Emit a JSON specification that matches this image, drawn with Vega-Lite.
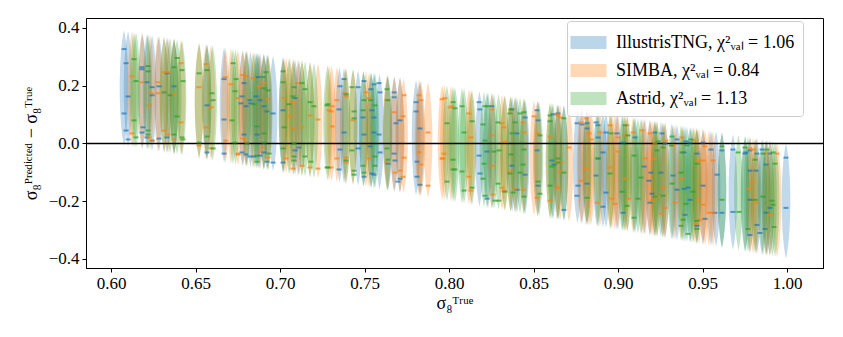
{
"$schema": "https://vega.github.io/schema/vega-lite/v6.json",
"width": 737, "height": 250,
"autosize": "none",
"padding": {"left": 86, "top": 18, "right": 20, "bottom": 69},
"config": {
  "font": "Liberation Serif",
  "view": {"stroke": "black", "strokeWidth": 1},
  "axis": {"labelFont": "Liberation Serif", "labelFontSize": 17, "labelColor": "black", "titleFont": "Liberation Serif", "titleFontSize": 18, "titleFontWeight": "normal", "titleColor": "black", "tickColor": "black", "tickSize": 4, "domainColor": "black", "grid": false, "labelPadding": 3},
  "legend": {"labelFont": "Liberation Serif"}
},
"datasets": {
"violins": [
{"s":"T","x":0.6077,"y":0.192},{"s":"T","x":0.6101,"y":0.190},{"s":"T","x":0.6186,"y":0.181},{"s":"T","x":0.6213,"y":0.179},{"s":"T","x":0.6243,"y":0.176},{"s":"T","x":0.6284,"y":0.172},{"s":"T","x":0.6331,"y":0.167},{"s":"T","x":0.6373,"y":0.163},{"s":"T","x":0.6568,"y":0.143},{"s":"T","x":0.6669,"y":0.133},{"s":"T","x":0.6778,"y":0.122},{"s":"T","x":0.6799,"y":0.120},{"s":"T","x":0.6825,"y":0.118},{"s":"T","x":0.6858,"y":0.114},{"s":"T","x":0.6870,"y":0.113},{"s":"T","x":0.6882,"y":0.112},{"s":"T","x":0.6905,"y":0.110},{"s":"T","x":0.6923,"y":0.108},{"s":"T","x":0.6959,"y":0.104},{"s":"T","x":0.7018,"y":0.098},{"s":"T","x":0.7089,"y":0.091},{"s":"T","x":0.7112,"y":0.089},{"s":"T","x":0.7352,"y":0.065},{"s":"T","x":0.7379,"y":0.062},{"s":"T","x":0.7462,"y":0.054},{"s":"T","x":0.7494,"y":0.051},{"s":"T","x":0.7540,"y":0.046},{"s":"T","x":0.7556,"y":0.044},{"s":"T","x":0.7589,"y":0.041},{"s":"T","x":0.7639,"y":0.036},{"s":"T","x":0.7677,"y":0.032},{"s":"T","x":0.7710,"y":0.029},{"s":"T","x":0.7805,"y":0.020},{"s":"T","x":0.7828,"y":0.017},{"s":"T","x":0.8180,"y":-0.018},{"s":"T","x":0.8225,"y":-0.023},{"s":"T","x":0.8254,"y":-0.025},{"s":"T","x":0.8373,"y":-0.037},{"s":"T","x":0.8402,"y":-0.040},{"s":"T","x":0.8450,"y":-0.045},{"s":"T","x":0.8524,"y":-0.052},{"s":"T","x":0.8615,"y":-0.062},{"s":"T","x":0.8645,"y":-0.065},{"s":"T","x":0.8680,"y":-0.068},{"s":"T","x":0.8760,"y":-0.076},{"s":"T","x":0.8787,"y":-0.079},{"s":"T","x":0.8817,"y":-0.082},{"s":"T","x":0.8876,"y":-0.088},{"s":"T","x":0.8911,"y":-0.091},{"s":"T","x":0.8929,"y":-0.093},{"s":"T","x":0.8994,"y":-0.099},{"s":"T","x":0.9030,"y":-0.103},{"s":"T","x":0.9101,"y":-0.110},{"s":"T","x":0.9154,"y":-0.115},{"s":"T","x":0.9189,"y":-0.119},{"s":"T","x":0.9219,"y":-0.122},{"s":"T","x":0.9254,"y":-0.125},{"s":"T","x":0.9278,"y":-0.128},{"s":"T","x":0.9325,"y":-0.133},{"s":"T","x":0.9349,"y":-0.135},{"s":"T","x":0.9396,"y":-0.140},{"s":"T","x":0.9426,"y":-0.143},{"s":"T","x":0.9467,"y":-0.147},{"s":"T","x":0.9503,"y":-0.150},{"s":"T","x":0.9550,"y":-0.155},{"s":"T","x":0.9580,"y":-0.158},{"s":"T","x":0.9615,"y":-0.162},{"s":"T","x":0.9680,"y":-0.168},{"s":"T","x":0.9754,"y":-0.175},{"s":"T","x":0.9781,"y":-0.178},{"s":"T","x":0.9822,"y":-0.182},{"s":"T","x":0.9852,"y":-0.185},{"s":"T","x":0.9876,"y":-0.188},{"s":"T","x":0.9899,"y":-0.190},{"s":"T","x":0.9994,"y":-0.199},
{"s":"S","x":0.6124,"y":0.188},{"s":"S","x":0.6183,"y":0.182},{"s":"S","x":0.6231,"y":0.177},{"s":"S","x":0.6278,"y":0.172},{"s":"S","x":0.6314,"y":0.169},{"s":"S","x":0.6337,"y":0.166},{"s":"S","x":0.6373,"y":0.163},{"s":"S","x":0.6414,"y":0.159},{"s":"S","x":0.6521,"y":0.148},{"s":"S","x":0.6562,"y":0.144},{"s":"S","x":0.6592,"y":0.141},{"s":"S","x":0.6678,"y":0.132},{"s":"S","x":0.6710,"y":0.129},{"s":"S","x":0.6751,"y":0.125},{"s":"S","x":0.6781,"y":0.122},{"s":"S","x":0.6799,"y":0.120},{"s":"S","x":0.6840,"y":0.116},{"s":"S","x":0.6876,"y":0.112},{"s":"S","x":0.6902,"y":0.110},{"s":"S","x":0.6929,"y":0.107},{"s":"S","x":0.7024,"y":0.098},{"s":"S","x":0.7036,"y":0.096},{"s":"S","x":0.7059,"y":0.094},{"s":"S","x":0.7077,"y":0.092},{"s":"S","x":0.7106,"y":0.089},{"s":"S","x":0.7130,"y":0.087},{"s":"S","x":0.7178,"y":0.082},{"s":"S","x":0.7225,"y":0.078},{"s":"S","x":0.7290,"y":0.071},{"s":"S","x":0.7305,"y":0.070},{"s":"S","x":0.7337,"y":0.066},{"s":"S","x":0.7388,"y":0.061},{"s":"S","x":0.7432,"y":0.057},{"s":"S","x":0.7509,"y":0.049},{"s":"S","x":0.7527,"y":0.047},{"s":"S","x":0.7633,"y":0.037},{"s":"S","x":0.7675,"y":0.033},{"s":"S","x":0.7710,"y":0.029},{"s":"S","x":0.7731,"y":0.027},{"s":"S","x":0.7822,"y":0.018},{"s":"S","x":0.7834,"y":0.017},{"s":"S","x":0.7876,"y":0.012},{"s":"S","x":0.7959,"y":0.004},{"s":"S","x":0.7973,"y":0.003},{"s":"S","x":0.8012,"y":-0.001},{"s":"S","x":0.8118,"y":-0.012},{"s":"S","x":0.8130,"y":-0.013},{"s":"S","x":0.8254,"y":-0.025},{"s":"S","x":0.8314,"y":-0.031},{"s":"S","x":0.8328,"y":-0.033},{"s":"S","x":0.8364,"y":-0.036},{"s":"S","x":0.8391,"y":-0.039},{"s":"S","x":0.8441,"y":-0.044},{"s":"S","x":0.8503,"y":-0.050},{"s":"S","x":0.8524,"y":-0.052},{"s":"S","x":0.8598,"y":-0.060},{"s":"S","x":0.8639,"y":-0.064},{"s":"S","x":0.8657,"y":-0.066},{"s":"S","x":0.8710,"y":-0.071},{"s":"S","x":0.8781,"y":-0.078},{"s":"S","x":0.8811,"y":-0.081},{"s":"S","x":0.8828,"y":-0.083},{"s":"S","x":0.8840,"y":-0.084},{"s":"S","x":0.8893,"y":-0.089},{"s":"S","x":0.8953,"y":-0.095},{"s":"S","x":0.8964,"y":-0.096},{"s":"S","x":0.8982,"y":-0.098},{"s":"S","x":0.9000,"y":-0.100},{"s":"S","x":0.9041,"y":-0.104},{"s":"S","x":0.9053,"y":-0.105},{"s":"S","x":0.9089,"y":-0.109},{"s":"S","x":0.9142,"y":-0.114},{"s":"S","x":0.9160,"y":-0.116},{"s":"S","x":0.9189,"y":-0.119},{"s":"S","x":0.9201,"y":-0.120},{"s":"S","x":0.9213,"y":-0.121},{"s":"S","x":0.9231,"y":-0.123},{"s":"S","x":0.9266,"y":-0.127},{"s":"S","x":0.9278,"y":-0.128},{"s":"S","x":0.9337,"y":-0.134},{"s":"S","x":0.9379,"y":-0.138},{"s":"S","x":0.9450,"y":-0.145},{"s":"S","x":0.9462,"y":-0.146},{"s":"S","x":0.9479,"y":-0.148},{"s":"S","x":0.9503,"y":-0.150},{"s":"S","x":0.9515,"y":-0.152},{"s":"S","x":0.9538,"y":-0.154},{"s":"S","x":0.9562,"y":-0.156},{"s":"S","x":0.9781,"y":-0.178},{"s":"S","x":0.9799,"y":-0.180},{"s":"S","x":0.9817,"y":-0.182},{"s":"S","x":0.9876,"y":-0.188},{"s":"S","x":0.9899,"y":-0.190},{"s":"S","x":0.9941,"y":-0.194},
{"s":"A","x":0.6136,"y":0.186},{"s":"A","x":0.6148,"y":0.185},{"s":"A","x":0.6219,"y":0.178},{"s":"A","x":0.6314,"y":0.169},{"s":"A","x":0.6349,"y":0.165},{"s":"A","x":0.6373,"y":0.163},{"s":"A","x":0.6391,"y":0.161},{"s":"A","x":0.6420,"y":0.158},{"s":"A","x":0.6521,"y":0.148},{"s":"A","x":0.6568,"y":0.143},{"s":"A","x":0.6601,"y":0.140},{"s":"A","x":0.6722,"y":0.128},{"s":"A","x":0.6737,"y":0.126},{"s":"A","x":0.6805,"y":0.120},{"s":"A","x":0.6846,"y":0.115},{"s":"A","x":0.6864,"y":0.114},{"s":"A","x":0.6905,"y":0.110},{"s":"A","x":0.6929,"y":0.107},{"s":"A","x":0.7018,"y":0.098},{"s":"A","x":0.7053,"y":0.095},{"s":"A","x":0.7080,"y":0.092},{"s":"A","x":0.7130,"y":0.087},{"s":"A","x":0.7148,"y":0.085},{"s":"A","x":0.7178,"y":0.082},{"s":"A","x":0.7201,"y":0.080},{"s":"A","x":0.7281,"y":0.072},{"s":"A","x":0.7391,"y":0.061},{"s":"A","x":0.7432,"y":0.057},{"s":"A","x":0.7494,"y":0.051},{"s":"A","x":0.7538,"y":0.046},{"s":"A","x":0.7562,"y":0.044},{"s":"A","x":0.7636,"y":0.036},{"s":"A","x":0.7988,"y":0.001},{"s":"A","x":0.8024,"y":-0.002},{"s":"A","x":0.8035,"y":-0.004},{"s":"A","x":0.8077,"y":-0.008},{"s":"A","x":0.8089,"y":-0.009},{"s":"A","x":0.8136,"y":-0.014},{"s":"A","x":0.8207,"y":-0.021},{"s":"A","x":0.8231,"y":-0.023},{"s":"A","x":0.8266,"y":-0.027},{"s":"A","x":0.8293,"y":-0.029},{"s":"A","x":0.8331,"y":-0.033},{"s":"A","x":0.8364,"y":-0.036},{"s":"A","x":0.8391,"y":-0.039},{"s":"A","x":0.8420,"y":-0.042},{"s":"A","x":0.8444,"y":-0.044},{"s":"A","x":0.8532,"y":-0.053},{"s":"A","x":0.8598,"y":-0.060},{"s":"A","x":0.8609,"y":-0.061},{"s":"A","x":0.8645,"y":-0.065},{"s":"A","x":0.8680,"y":-0.068},{"s":"A","x":0.8817,"y":-0.082},{"s":"A","x":0.8882,"y":-0.088},{"s":"A","x":0.8956,"y":-0.096},{"s":"A","x":0.9024,"y":-0.102},{"s":"A","x":0.9041,"y":-0.104},{"s":"A","x":0.9056,"y":-0.106},{"s":"A","x":0.9095,"y":-0.110},{"s":"A","x":0.9118,"y":-0.112},{"s":"A","x":0.9136,"y":-0.114},{"s":"A","x":0.9219,"y":-0.122},{"s":"A","x":0.9231,"y":-0.123},{"s":"A","x":0.9266,"y":-0.127},{"s":"A","x":0.9317,"y":-0.132},{"s":"A","x":0.9373,"y":-0.137},{"s":"A","x":0.9385,"y":-0.139},{"s":"A","x":0.9408,"y":-0.141},{"s":"A","x":0.9432,"y":-0.143},{"s":"A","x":0.9444,"y":-0.144},{"s":"A","x":0.9467,"y":-0.147},{"s":"A","x":0.9615,"y":-0.162},{"s":"A","x":0.9713,"y":-0.171},{"s":"A","x":0.9751,"y":-0.175},{"s":"A","x":0.9769,"y":-0.177},{"s":"A","x":0.9811,"y":-0.181},{"s":"A","x":0.9858,"y":-0.186},{"s":"A","x":0.9882,"y":-0.188},{"s":"A","x":0.9914,"y":-0.191},{"s":"A","x":0.9929,"y":-0.193}
],
"dashes": [
{"s":"T","x":0.6077,"y":0.327},{"s":"T","x":0.6089,"y":0.278},{"s":"T","x":0.6101,"y":0.163},{"s":"T","x":0.6077,"y":0.104},{"s":"T","x":0.6089,"y":0.045},{"s":"T","x":0.6101,"y":0.014},{"s":"T","x":0.6183,"y":0.264},{"s":"T","x":0.6183,"y":0.257},{"s":"T","x":0.6189,"y":0.056},{"s":"T","x":0.6183,"y":0.038},{"s":"T","x":0.6213,"y":0.212},{"s":"T","x":0.6243,"y":0.195},{"s":"T","x":0.6243,"y":0.167},{"s":"T","x":0.6213,"y":0.021},{"s":"T","x":0.6243,"y":0.010},{"s":"T","x":0.6284,"y":0.198},{"s":"T","x":0.6284,"y":0.017},{"s":"T","x":0.6331,"y":0.243},{"s":"T","x":0.6331,"y":0.021},{"s":"T","x":0.6373,"y":0.198},{"s":"T","x":0.6568,"y":0.132},{"s":"T","x":0.6568,"y":-0.031},
{"s":"T","x":0.6669,"y":0.223},{"s":"T","x":0.6669,"y":0.083},{"s":"T","x":0.6669,"y":-0.035},{"s":"T","x":0.6787,"y":0.209},{"s":"T","x":0.6775,"y":0.163},{"s":"T","x":0.6769,"y":0.139},{"s":"T","x":0.6799,"y":0.129},{"s":"T","x":0.6822,"y":0.150},{"s":"T","x":0.6828,"y":0.139},{"s":"T","x":0.6858,"y":0.163},{"s":"T","x":0.6882,"y":0.150},{"s":"T","x":0.6870,"y":0.230},{"s":"T","x":0.6905,"y":0.129},{"s":"T","x":0.6923,"y":0.111},{"s":"T","x":0.6959,"y":0.104},{"s":"T","x":0.6864,"y":0.031},{"s":"T","x":0.6787,"y":0.031},{"s":"T","x":0.6775,"y":-0.031},{"s":"T","x":0.6799,"y":-0.038},{"s":"T","x":0.6822,"y":-0.045},{"s":"T","x":0.6846,"y":-0.045},{"s":"T","x":0.6882,"y":-0.042},{"s":"T","x":0.6905,"y":-0.031},{"s":"T","x":0.6923,"y":-0.063},{"s":"T","x":0.6959,"y":-0.066},{"s":"T","x":0.7018,"y":0.115},{"s":"T","x":0.7018,"y":-0.066},{"s":"T","x":0.7089,"y":0.157},{"s":"T","x":0.7089,"y":-0.024},{"s":"T","x":0.7112,"y":-0.014},
{"s":"T","x":0.7355,"y":0.198},{"s":"T","x":0.7349,"y":0.118},{"s":"T","x":0.7355,"y":-0.021},{"s":"T","x":0.7349,"y":-0.090},{"s":"T","x":0.7379,"y":0.223},{"s":"T","x":0.7379,"y":0.038},{"s":"T","x":0.7462,"y":0.195},{"s":"T","x":0.7462,"y":-0.017},{"s":"T","x":0.7497,"y":0.216},{"s":"T","x":0.7491,"y":0.090},{"s":"T","x":0.7497,"y":0.031},{"s":"T","x":0.7497,"y":-0.115},{"s":"T","x":0.7538,"y":0.188},{"s":"T","x":0.7544,"y":0.115},{"s":"T","x":0.7556,"y":0.090},{"s":"T","x":0.7556,"y":0.038},{"s":"T","x":0.7533,"y":-0.010},{"s":"T","x":0.7544,"y":-0.104},{"s":"T","x":0.7556,"y":-0.108},{"s":"T","x":0.7556,"y":0.205},{"s":"T","x":0.7586,"y":0.209},{"s":"T","x":0.7592,"y":0.177},{"s":"T","x":0.7586,"y":0.031},{"s":"T","x":0.7592,"y":-0.031},{"s":"T","x":0.7639,"y":-0.070},{"s":"T","x":0.7675,"y":0.177},{"s":"T","x":0.7675,"y":0.160},{"s":"T","x":0.7686,"y":0.070},{"s":"T","x":0.7710,"y":0.080},{"s":"T","x":0.7675,"y":-0.035},{"s":"T","x":0.7680,"y":-0.059},{"s":"T","x":0.7698,"y":-0.132},{"s":"T","x":0.7710,"y":-0.122},{"s":"T","x":0.7805,"y":0.143},{"s":"T","x":0.7805,"y":0.111},{"s":"T","x":0.7828,"y":0.052},{"s":"T","x":0.7811,"y":-0.063},{"s":"T","x":0.7811,"y":-0.115},{"s":"T","x":0.7828,"y":-0.143},
{"s":"T","x":0.8178,"y":0.143},{"s":"T","x":0.8183,"y":0.118},{"s":"T","x":0.8178,"y":-0.042},{"s":"T","x":0.8183,"y":-0.104},{"s":"T","x":0.8254,"y":0.129},{"s":"T","x":0.8225,"y":-0.028},{"s":"T","x":0.8225,"y":-0.191},{"s":"T","x":0.8373,"y":0.118},{"s":"T","x":0.8402,"y":0.035},{"s":"T","x":0.8373,"y":-0.077},{"s":"T","x":0.8402,"y":-0.160},{"s":"T","x":0.8450,"y":0.090},{"s":"T","x":0.8450,"y":-0.108},{"s":"T","x":0.8521,"y":0.115},{"s":"T","x":0.8527,"y":0.080},{"s":"T","x":0.8521,"y":-0.024},{"s":"T","x":0.8527,"y":-0.146},{"s":"T","x":0.8609,"y":-0.059},{"s":"T","x":0.8615,"y":0.101},{"s":"T","x":0.8621,"y":-0.073},
{"s":"T","x":0.8645,"y":0.104},{"s":"T","x":0.8680,"y":-0.230},{"s":"T","x":0.8757,"y":0.070},{"s":"T","x":0.8787,"y":0.066},{"s":"T","x":0.8817,"y":0.070},{"s":"T","x":0.8817,"y":0.052},{"s":"T","x":0.8763,"y":-0.146},{"s":"T","x":0.8817,"y":-0.139},{"s":"T","x":0.8757,"y":-0.181},{"s":"T","x":0.8882,"y":0.063},{"s":"T","x":0.8882,"y":0.021},{"s":"T","x":0.8870,"y":0.073},{"s":"T","x":0.8870,"y":-0.111},{"s":"T","x":0.8911,"y":-0.031},{"s":"T","x":0.8929,"y":0.038},{"s":"T","x":0.8882,"y":-0.052},{"s":"T","x":0.8929,"y":-0.170},{"s":"T","x":0.8911,"y":-0.219},{"s":"T","x":0.8994,"y":0.035},{"s":"T","x":0.9030,"y":0.003},{"s":"T","x":0.9030,"y":-0.240},{"s":"T","x":0.9101,"y":0.021},{"s":"T","x":0.9154,"y":-0.080},{"s":"T","x":0.9195,"y":-0.101},{"s":"T","x":0.9183,"y":-0.129},{"s":"T","x":0.9201,"y":-0.174},{"s":"T","x":0.9189,"y":-0.205},{"s":"T","x":0.9219,"y":0.038},{"s":"T","x":0.9254,"y":-0.101},{"s":"T","x":0.9278,"y":0.000},{"s":"T","x":0.9260,"y":0.035},{"s":"T","x":0.9325,"y":-0.111},
{"s":"T","x":0.9349,"y":0.014},{"s":"T","x":0.9402,"y":0.007},{"s":"T","x":0.9391,"y":-0.031},{"s":"T","x":0.9426,"y":0.003},{"s":"T","x":0.9467,"y":-0.035},{"s":"T","x":0.9503,"y":0.003},{"s":"T","x":0.9550,"y":-0.021},{"s":"T","x":0.9615,"y":-0.024},{"s":"T","x":0.9586,"y":-0.108},{"s":"T","x":0.9349,"y":-0.160},{"s":"T","x":0.9391,"y":-0.157},{"s":"T","x":0.9414,"y":-0.153},{"s":"T","x":0.9503,"y":-0.146},{"s":"T","x":0.9426,"y":-0.195},{"s":"T","x":0.9515,"y":-0.261},{"s":"T","x":0.9396,"y":-0.247},{"s":"T","x":0.9467,"y":-0.285},{"s":"T","x":0.9574,"y":-0.240},{"s":"T","x":0.9615,"y":-0.240},{"s":"T","x":0.9680,"y":-0.021},{"s":"T","x":0.9680,"y":-0.237},{"s":"T","x":0.9751,"y":-0.035},{"s":"T","x":0.9757,"y":-0.031},{"s":"T","x":0.9781,"y":-0.024},{"s":"T","x":0.9781,"y":-0.094},{"s":"T","x":0.9817,"y":-0.094},{"s":"T","x":0.9781,"y":-0.195},{"s":"T","x":0.9781,"y":-0.317},{"s":"T","x":0.9822,"y":-0.282},{"s":"T","x":0.9840,"y":-0.310},{"s":"T","x":0.9870,"y":-0.296},{"s":"T","x":0.9876,"y":-0.240},{"s":"T","x":0.9899,"y":-0.223},{"s":"T","x":0.9899,"y":-0.035},{"s":"T","x":0.9876,"y":-0.073},{"s":"T","x":0.9822,"y":-0.035},{"s":"T","x":0.9852,"y":-0.021},{"s":"T","x":0.9994,"y":-0.049},{"s":"T","x":0.9994,"y":-0.223},
{"s":"S","x":0.6124,"y":0.233},{"s":"S","x":0.6124,"y":0.035},{"s":"S","x":0.6183,"y":0.212},{"s":"S","x":0.6237,"y":0.174},{"s":"S","x":0.6225,"y":0.132},{"s":"S","x":0.6225,"y":0.021},{"s":"S","x":0.6243,"y":0.010},{"s":"S","x":0.6278,"y":0.212},{"s":"S","x":0.6278,"y":0.174},{"s":"S","x":0.6314,"y":0.247},{"s":"S","x":0.6337,"y":0.247},{"s":"S","x":0.6314,"y":0.045},{"s":"S","x":0.6337,"y":0.031},{"s":"S","x":0.6373,"y":0.014},{"s":"S","x":0.6373,"y":0.170},{"s":"S","x":0.6414,"y":0.278},{"s":"S","x":0.6414,"y":0.073},{"s":"S","x":0.6521,"y":0.195},{"s":"S","x":0.6562,"y":0.275},{"s":"S","x":0.6592,"y":0.125},{"s":"S","x":0.6562,"y":0.056},{"s":"S","x":0.6521,"y":-0.007},{"s":"S","x":0.6592,"y":-0.017},
{"s":"S","x":0.6675,"y":0.230},{"s":"S","x":0.6710,"y":0.205},{"s":"S","x":0.6680,"y":0.010},{"s":"S","x":0.6751,"y":-0.035},{"s":"S","x":0.6781,"y":0.237},{"s":"S","x":0.6799,"y":0.233},{"s":"S","x":0.6751,"y":0.157},{"s":"S","x":0.6840,"y":0.226},{"s":"S","x":0.6905,"y":0.209},{"s":"S","x":0.6876,"y":0.198},{"s":"S","x":0.6929,"y":0.153},{"s":"S","x":0.6781,"y":0.017},{"s":"S","x":0.6799,"y":0.007},{"s":"S","x":0.6751,"y":-0.038},{"s":"S","x":0.6882,"y":-0.028},{"s":"S","x":0.6899,"y":-0.014},{"s":"S","x":0.6929,"y":-0.049},{"s":"S","x":0.7024,"y":0.157},{"s":"S","x":0.7036,"y":-0.052},{"s":"S","x":0.7059,"y":0.094},{"s":"S","x":0.7077,"y":0.143},{"s":"S","x":0.7077,"y":0.052},{"s":"S","x":0.7077,"y":-0.087},{"s":"S","x":0.7106,"y":0.209},{"s":"S","x":0.7130,"y":0.056},{"s":"S","x":0.7130,"y":-0.077},{"s":"S","x":0.7178,"y":0.097},{"s":"S","x":0.7178,"y":-0.083},{"s":"S","x":0.7225,"y":0.083},{"s":"S","x":0.7225,"y":-0.087},{"s":"S","x":0.7290,"y":0.115},
{"s":"S","x":0.7308,"y":0.129},{"s":"S","x":0.7302,"y":0.111},{"s":"S","x":0.7308,"y":0.059},{"s":"S","x":0.7302,"y":-0.083},{"s":"S","x":0.7337,"y":0.150},{"s":"S","x":0.7337,"y":-0.052},{"s":"S","x":0.7385,"y":0.174},{"s":"S","x":0.7391,"y":0.163},{"s":"S","x":0.7391,"y":-0.049},{"s":"S","x":0.7391,"y":-0.066},{"s":"S","x":0.7432,"y":0.080},{"s":"S","x":0.7509,"y":0.177},{"s":"S","x":0.7527,"y":0.157},{"s":"S","x":0.7527,"y":-0.052},{"s":"S","x":0.7633,"y":0.150},{"s":"S","x":0.7633,"y":-0.063},{"s":"S","x":0.7675,"y":0.108},{"s":"S","x":0.7728,"y":0.094},{"s":"S","x":0.7680,"y":-0.101},{"s":"S","x":0.7710,"y":-0.094},{"s":"S","x":0.7728,"y":-0.115},{"s":"S","x":0.7734,"y":0.167},{"s":"S","x":0.7734,"y":-0.049},{"s":"S","x":0.7822,"y":0.167},{"s":"S","x":0.7834,"y":0.150},{"s":"S","x":0.7822,"y":-0.031},{"s":"S","x":0.7834,"y":-0.073},{"s":"S","x":0.7876,"y":0.038},{"s":"S","x":0.7876,"y":-0.146},{"s":"S","x":0.7959,"y":0.153},{"s":"S","x":0.7959,"y":-0.052},
{"s":"S","x":0.7976,"y":0.157},{"s":"S","x":0.8018,"y":0.129},{"s":"S","x":0.8006,"y":0.125},{"s":"S","x":0.7970,"y":-0.035},{"s":"S","x":0.7964,"y":-0.052},{"s":"S","x":0.8118,"y":0.104},{"s":"S","x":0.8130,"y":0.021},{"s":"S","x":0.8118,"y":-0.115},{"s":"S","x":0.8130,"y":-0.163},{"s":"S","x":0.8254,"y":0.118},{"s":"S","x":0.8254,"y":0.028},{"s":"S","x":0.8254,"y":-0.077},{"s":"S","x":0.8260,"y":-0.177},{"s":"S","x":0.8314,"y":0.070},{"s":"S","x":0.8325,"y":0.056},{"s":"S","x":0.8331,"y":0.007},{"s":"S","x":0.8314,"y":-0.153},{"s":"S","x":0.8325,"y":-0.163},{"s":"S","x":0.8367,"y":0.111},{"s":"S","x":0.8361,"y":-0.097},{"s":"S","x":0.8391,"y":-0.157},{"s":"S","x":0.8438,"y":0.073},{"s":"S","x":0.8444,"y":0.038},{"s":"S","x":0.8438,"y":-0.160},{"s":"S","x":0.8503,"y":0.094},{"s":"S","x":0.8527,"y":0.035},{"s":"S","x":0.8521,"y":-0.188},{"s":"S","x":0.8639,"y":0.101},{"s":"S","x":0.8598,"y":0.024},{"s":"S","x":0.8639,"y":-0.066},{"s":"S","x":0.8598,"y":-0.198},{"s":"S","x":0.8639,"y":-0.153},
{"s":"S","x":0.8645,"y":0.097},{"s":"S","x":0.8663,"y":0.090},{"s":"S","x":0.8710,"y":-0.014},{"s":"S","x":0.8657,"y":-0.097},{"s":"S","x":0.8645,"y":-0.153},{"s":"S","x":0.8663,"y":-0.066},{"s":"S","x":0.8781,"y":0.073},{"s":"S","x":0.8811,"y":0.087},{"s":"S","x":0.8828,"y":0.035},{"s":"S","x":0.8781,"y":-0.129},{"s":"S","x":0.8811,"y":-0.087},{"s":"S","x":0.8840,"y":0.014},{"s":"S","x":0.8893,"y":0.038},{"s":"S","x":0.8876,"y":-0.205},{"s":"S","x":0.8953,"y":0.063},{"s":"S","x":0.8953,"y":-0.083},{"s":"S","x":0.8964,"y":-0.191},{"s":"S","x":0.8982,"y":-0.209},{"s":"S","x":0.9000,"y":0.021},{"s":"S","x":0.9000,"y":-0.028},{"s":"S","x":0.9041,"y":0.028},{"s":"S","x":0.9041,"y":-0.122},{"s":"S","x":0.9059,"y":-0.191},{"s":"S","x":0.9053,"y":0.063},{"s":"S","x":0.9089,"y":0.038},{"s":"S","x":0.9142,"y":0.045},{"s":"S","x":0.9201,"y":-0.198},{"s":"S","x":0.9160,"y":-0.052},{"s":"S","x":0.9213,"y":-0.052},{"s":"S","x":0.9231,"y":-0.184},{"s":"S","x":0.9189,"y":0.035},{"s":"S","x":0.9219,"y":0.000},{"s":"S","x":0.9266,"y":-0.153},{"s":"S","x":0.9278,"y":-0.223},{"s":"S","x":0.9254,"y":-0.243},{"s":"S","x":0.9284,"y":0.010},
{"s":"S","x":0.9325,"y":-0.007},{"s":"S","x":0.9379,"y":0.021},{"s":"S","x":0.9450,"y":0.010},{"s":"S","x":0.9479,"y":-0.059},{"s":"S","x":0.9503,"y":-0.059},{"s":"S","x":0.9515,"y":-0.010},{"s":"S","x":0.9562,"y":-0.059},{"s":"S","x":0.9379,"y":-0.122},{"s":"S","x":0.9337,"y":-0.205},{"s":"S","x":0.9479,"y":-0.195},{"s":"S","x":0.9503,"y":-0.212},{"s":"S","x":0.9485,"y":-0.264},{"s":"S","x":0.9462,"y":-0.278},{"s":"S","x":0.9538,"y":-0.240},{"s":"S","x":0.9562,"y":-0.240},{"s":"S","x":0.9781,"y":-0.017},{"s":"S","x":0.9799,"y":-0.021},{"s":"S","x":0.9793,"y":-0.136},{"s":"S","x":0.9775,"y":-0.157},{"s":"S","x":0.9817,"y":-0.205},{"s":"S","x":0.9899,"y":-0.247},{"s":"S","x":0.9876,"y":-0.035},{"s":"S","x":0.9941,"y":-0.035},
{"s":"A","x":0.6136,"y":0.292},{"s":"A","x":0.6148,"y":0.216},{"s":"A","x":0.6136,"y":0.080},{"s":"A","x":0.6148,"y":0.021},{"s":"A","x":0.6219,"y":0.268},{"s":"A","x":0.6219,"y":0.250},{"s":"A","x":0.6219,"y":0.045},{"s":"A","x":0.6219,"y":0.031},{"s":"A","x":0.6314,"y":0.177},{"s":"A","x":0.6349,"y":0.167},{"s":"A","x":0.6373,"y":0.264},{"s":"A","x":0.6391,"y":0.296},{"s":"A","x":0.6391,"y":0.094},{"s":"A","x":0.6373,"y":0.031},{"s":"A","x":0.6420,"y":0.254},{"s":"A","x":0.6426,"y":0.216},{"s":"A","x":0.6420,"y":0.021},{"s":"A","x":0.6426,"y":0.014},{"s":"A","x":0.6521,"y":0.243},{"s":"A","x":0.6568,"y":0.254},{"s":"A","x":0.6568,"y":0.024},{"s":"A","x":0.6521,"y":0.003},{"s":"A","x":0.6598,"y":0.174},{"s":"A","x":0.6604,"y":0.150},{"s":"A","x":0.6604,"y":-0.017},
{"s":"A","x":0.6722,"y":0.278},{"s":"A","x":0.6740,"y":0.223},{"s":"A","x":0.6734,"y":0.181},{"s":"A","x":0.6716,"y":0.080},{"s":"A","x":0.6734,"y":0.003},{"s":"A","x":0.6846,"y":0.136},{"s":"A","x":0.6899,"y":0.230},{"s":"A","x":0.6917,"y":0.247},{"s":"A","x":0.6905,"y":0.191},{"s":"A","x":0.6929,"y":0.184},{"s":"A","x":0.6864,"y":0.059},{"s":"A","x":0.6805,"y":0.000},{"s":"A","x":0.6864,"y":-0.042},{"s":"A","x":0.6905,"y":0.003},{"s":"A","x":0.6905,"y":0.035},{"s":"A","x":0.6935,"y":-0.035},{"s":"A","x":0.6864,"y":-0.063},{"s":"A","x":0.7018,"y":0.250},{"s":"A","x":0.7018,"y":0.212},{"s":"A","x":0.7024,"y":0.056},{"s":"A","x":0.7018,"y":-0.017},{"s":"A","x":0.7053,"y":0.136},{"s":"A","x":0.7077,"y":0.163},{"s":"A","x":0.7083,"y":0.195},{"s":"A","x":0.7083,"y":0.000},{"s":"A","x":0.7083,"y":-0.045},{"s":"A","x":0.7083,"y":-0.059},{"s":"A","x":0.7130,"y":0.209},{"s":"A","x":0.7148,"y":0.188},{"s":"A","x":0.7148,"y":-0.045},{"s":"A","x":0.7178,"y":0.143},{"s":"A","x":0.7201,"y":0.129},{"s":"A","x":0.7183,"y":-0.063},{"s":"A","x":0.7278,"y":0.132},{"s":"A","x":0.7278,"y":-0.083},
{"s":"A","x":0.7284,"y":0.136},{"s":"A","x":0.7284,"y":-0.083},{"s":"A","x":0.7391,"y":0.170},{"s":"A","x":0.7391,"y":-0.059},{"s":"A","x":0.7426,"y":0.195},{"s":"A","x":0.7438,"y":0.111},{"s":"A","x":0.7438,"y":0.087},{"s":"A","x":0.7426,"y":-0.024},{"s":"A","x":0.7438,"y":-0.094},{"s":"A","x":0.7438,"y":-0.108},{"s":"A","x":0.7497,"y":0.150},{"s":"A","x":0.7491,"y":0.115},{"s":"A","x":0.7491,"y":-0.077},{"s":"A","x":0.7497,"y":-0.101},{"s":"A","x":0.7538,"y":0.150},{"s":"A","x":0.7562,"y":0.132},{"s":"A","x":0.7562,"y":-0.045},{"s":"A","x":0.7562,"y":-0.077},{"s":"A","x":0.7633,"y":0.188},{"s":"A","x":0.7639,"y":0.150},{"s":"A","x":0.7633,"y":-0.017},{"s":"A","x":0.7639,"y":-0.056},
{"s":"A","x":0.8024,"y":0.143},{"s":"A","x":0.8035,"y":0.122},{"s":"A","x":0.7988,"y":0.070},{"s":"A","x":0.8024,"y":-0.056},{"s":"A","x":0.8024,"y":-0.090},{"s":"A","x":0.8035,"y":-0.090},{"s":"A","x":0.7988,"y":-0.132},{"s":"A","x":0.8077,"y":0.129},{"s":"A","x":0.8089,"y":0.038},{"s":"A","x":0.8077,"y":-0.097},{"s":"A","x":0.8089,"y":-0.163},{"s":"A","x":0.8136,"y":0.077},{"s":"A","x":0.8136,"y":-0.153},{"s":"A","x":0.8213,"y":0.129},{"s":"A","x":0.8201,"y":0.066},{"s":"A","x":0.8213,"y":0.010},{"s":"A","x":0.8207,"y":-0.070},{"s":"A","x":0.8201,"y":-0.122},{"s":"A","x":0.8213,"y":-0.181},{"s":"A","x":0.8231,"y":0.129},{"s":"A","x":0.8266,"y":-0.028},{"s":"A","x":0.8272,"y":-0.198},{"s":"A","x":0.8296,"y":-0.198},{"s":"A","x":0.8290,"y":0.073},{"s":"A","x":0.8296,"y":-0.024},{"s":"A","x":0.8290,"y":-0.139},{"s":"A","x":0.8331,"y":-0.167},{"s":"A","x":0.8361,"y":0.104},{"s":"A","x":0.8367,"y":0.118},{"s":"A","x":0.8373,"y":0.035},{"s":"A","x":0.8367,"y":-0.038},{"s":"A","x":0.8361,"y":-0.104},{"s":"A","x":0.8379,"y":-0.170},{"s":"A","x":0.8391,"y":0.073},{"s":"A","x":0.8420,"y":0.104},{"s":"A","x":0.8444,"y":0.108},{"s":"A","x":0.8444,"y":-0.021},{"s":"A","x":0.8420,"y":-0.101},{"s":"A","x":0.8444,"y":-0.184},{"s":"A","x":0.8438,"y":-0.073},{"s":"A","x":0.8538,"y":0.028},{"s":"A","x":0.8527,"y":-0.132},{"s":"A","x":0.8538,"y":-0.174},{"s":"A","x":0.8598,"y":0.097},{"s":"A","x":0.8598,"y":0.077},{"s":"A","x":0.8609,"y":-0.080},{"s":"A","x":0.8645,"y":-0.052},{"s":"A","x":0.8598,"y":-0.146},
{"s":"A","x":0.8680,"y":0.087},{"s":"A","x":0.8680,"y":-0.101},{"s":"A","x":0.8645,"y":-0.066},{"s":"A","x":0.8817,"y":-0.188},{"s":"A","x":0.8882,"y":-0.052},{"s":"A","x":0.8959,"y":0.035},{"s":"A","x":0.8953,"y":-0.104},{"s":"A","x":0.9024,"y":-0.167},{"s":"A","x":0.9041,"y":0.063},{"s":"A","x":0.9053,"y":-0.216},{"s":"A","x":0.9059,"y":0.028},{"s":"A","x":0.9095,"y":-0.042},{"s":"A","x":0.9118,"y":-0.191},{"s":"A","x":0.9095,"y":-0.257},{"s":"A","x":0.9136,"y":-0.118},{"s":"A","x":0.9219,"y":-0.184},{"s":"A","x":0.9231,"y":-0.024},{"s":"A","x":0.9237,"y":0.007},{"s":"A","x":0.9266,"y":-0.181},{"s":"A","x":0.9266,"y":-0.014},{"s":"A","x":0.9320,"y":-0.139},{"s":"A","x":0.9314,"y":-0.007},
{"s":"A","x":0.9320,"y":0.024},{"s":"A","x":0.9408,"y":-0.007},{"s":"A","x":0.9379,"y":-0.031},{"s":"A","x":0.9432,"y":0.014},{"s":"A","x":0.9467,"y":-0.070},{"s":"A","x":0.9615,"y":-0.010},{"s":"A","x":0.9373,"y":-0.101},{"s":"A","x":0.9444,"y":-0.167},{"s":"A","x":0.9402,"y":-0.209},{"s":"A","x":0.9467,"y":-0.268},{"s":"A","x":0.9385,"y":-0.264},{"s":"A","x":0.9467,"y":-0.296},{"s":"A","x":0.9373,"y":-0.285},{"s":"A","x":0.9414,"y":-0.313},{"s":"A","x":0.9615,"y":-0.195},{"s":"A","x":0.9710,"y":-0.031},{"s":"A","x":0.9716,"y":-0.237},{"s":"A","x":0.9751,"y":-0.014},{"s":"A","x":0.9811,"y":-0.195},{"s":"A","x":0.9769,"y":-0.296},{"s":"A","x":0.9858,"y":-0.184},{"s":"A","x":0.9911,"y":-0.198},{"s":"A","x":0.9917,"y":-0.212},{"s":"A","x":0.9858,"y":-0.035},{"s":"A","x":0.9917,"y":-0.031},{"s":"A","x":0.9929,"y":-0.070},{"s":"A","x":0.9923,"y":-0.289},{"s":"A","x":0.9811,"y":-0.056},{"s":"A","x":0.9882,"y":-0.021}
]
},
"layer": [
  {
    "data": {"name": "violins"},
    "mark": {"type": "point", "shape": "M0,-1C0.1,-0.55 0.1,0.55 0,1C-0.1,0.55 -0.1,-0.55 0,-1Z", "filled": true, "fillOpacity": 0.28, "strokeWidth": 0, "size": 13340},
    "encoding": {
      "x": {"field": "x", "type": "quantitative", "scale": {"domain": [0.5852, 1.0213], "nice": false, "zero": false}, "axis": {"values": [0.6, 0.65, 0.7, 0.75, 0.8, 0.85, 0.9, 0.95, 1.0], "format": ".2f", "title": "σ₈ᵀʳᵘᵉ", "titlePadding": 3, "labelFont": "Liberation Serif", "titleFont": "Liberation Serif", "labelFontSize": 17, "titleFontSize": 18}},
      "y": {"field": "y", "type": "quantitative", "scale": {"domain": [-0.4312, 0.4346], "nice": false, "zero": false}, "axis": {"values": [-0.4, -0.2, 0, 0.2, 0.4], "format": ".1f", "title": "σ₈ᴾʳᵉᵈⁱᶜᵗᵉᵈ − σ₈ᵀʳᵘᵉ", "titlePadding": 8, "labelFont": "Liberation Serif", "titleFont": "Liberation Serif", "labelFontSize": 17, "titleFontSize": 18}},
      "color": {"field": "s", "type": "nominal", "scale": {"domain": ["T", "S", "A"], "range": ["#1f77b4", "#ff7f0e", "#2ca02c"]},
        "legend": {"orient": "none", "legendX": 481, "legendY": 3, "title": null, "symbolType": "M-1.4,-0.5H1.4V0.5H-1.4Z", "symbolSize": 661, "symbolOpacity": 0.3, "symbolStrokeWidth": 1, "labelFont": "Liberation Serif", "labelFontSize": 18, "labelColor": "black", "labelOffset": 14, "labelLimit": 400, "rowPadding": 5, "padding": 8, "fillColor": "rgba(255,255,255,0.8)", "strokeColor": "#cccccc", "cornerRadius": 3,
          "labelExpr": "datum.value == 'T' ? 'IllustrisTNG, χ²ᵥₐₗ = 1.06' : datum.value == 'S' ? 'SIMBA, χ²ᵥₐₗ = 0.84' : 'Astrid, χ²ᵥₐₗ = 1.13'"}}
    }
  },
  {
    "data": {"values": [{}]},
    "mark": {"type": "rule", "color": "black", "strokeWidth": 1.5},
    "encoding": {"y": {"datum": 0}}
  },
  {
    "data": {"name": "dashes"},
    "mark": {"type": "tick", "orient": "horizontal", "size": 5, "thickness": 2},
    "encoding": {
      "x": {"field": "x", "type": "quantitative"},
      "y": {"field": "y", "type": "quantitative"},
      "color": {"field": "s", "type": "nominal", "scale": {"domain": ["T", "S", "A"], "range": ["#1f77b4", "#ff7f0e", "#2ca02c"]}, "legend": null}
    }
  }
],
"resolve": {"scale": {"color": "independent"}}
}
